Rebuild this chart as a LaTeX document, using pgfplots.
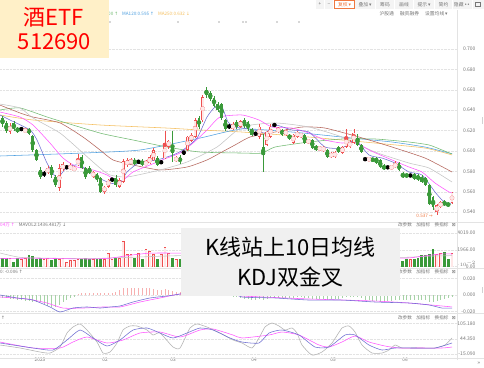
\documentclass[border=0pt]{standalone}
\usepackage{pgfplots}
\pgfplotsset{compat=1.18}
\usepackage{pgfplotstable}
\usepackage{fontspec}
\setmainfont{Noto Sans CJK SC}
\newfontfamily\sym{DejaVu Sans}
\definecolor{upred}{HTML}{EE5050}
\definecolor{upfill}{HTML}{FFE8E8}
\definecolor{dngreen}{HTML}{3A9A3A}
\definecolor{maA}{HTML}{6E6ED2}
\definecolor{maB}{HTML}{FF55FF}
\definecolor{maC}{HTML}{C4C4C4}
\definecolor{maD}{HTML}{B4645A}
\definecolor{maE}{HTML}{72BA72}
\definecolor{maF}{HTML}{50A0E0}
\definecolor{maG}{HTML}{F5C060}
\definecolor{ybox}{HTML}{FFF0C8}
\definecolor{gbox}{HTML}{F0F0F0}
\definecolor{lbl}{HTML}{777777}
\definecolor{orng}{HTML}{F07840}

% up (red, hollow) candles: index, open, high, low, close, volume
\pgfplotstableread{
i o h l c v
2 .619 .627 .617 .625 1020
6 .619 .623 .618 .621 1020
12 .579 .585 .577 .583 1020
15 .564 .587 .561 .583 900
16 .582 .589 .580 .587 1020
18 .582 .588 .581 .586 780
19 .581 .585 .580 .584 780
20 .586 .597 .585 .593 900
24 .575 .580 .574 .579 900
27 .560 .566 .558 .565 900
28 .565 .573 .564 .572 1620
31 .565 .574 .564 .572 1020
32 .570 .592 .569 .590 3060
33 .586 .593 .584 .591 1500
34 .588 .593 .587 .591 1500
38 .587 .591 .586 .589 2100
39 .588 .596 .587 .594 1860
40 .591 .603 .590 .601 1500
43 .593 .620 .592 .608 2340
44 .604 .611 .602 .610 1620
46 .590 .595 .589 .594 900
49 .601 .615 .600 .614 2000
50 .610 .618 .609 .616 1700
51 .614 .632 .613 .630 2600
53 .630 .655 .628 .653 3400
61 .622 .628 .621 .626 1200
63 .624 .630 .623 .629 1100
68 .614 .626 .612 .624 1300
70 .606 .620 .605 .619 1500
71 .614 .626 .613 .624 1300
73 .619 .624 .618 .622 900
75 .616 .622 .615 .620 900
77 .608 .617 .607 .616 1000
78 .614 .620 .613 .619 900
79 .614 .618 .613 .617 800
81 .608 .612 .607 .611 800
84 .601 .605 .600 .604 800
85 .600 .605 .599 .604 900
87 .594 .599 .593 .598 900
88 .594 .600 .593 .599 900
90 .598 .605 .597 .604 1000
91 .604 .622 .603 .614 1800
92 .604 .611 .603 .609 1200
93 .608 .622 .607 .618 1500
97 .591 .594 .590 .593 900
103 .583 .586 .582 .585 800
104 .584 .590 .583 .588 900
115 .540 .548 .537 .547 1500
116 .545 .551 .544 .550 1620
119 .549 .560 .548 .559 1620
}\upc

% down (green, filled) candles
\pgfplotstableread{
i o h l c v
0 .632 .634 .624 .626 1020
1 .627 .629 .618 .620 1020
3 .627 .629 .620 .622 540
4 .622 .624 .618 .619 1020
7 .622 .623 .616 .617 1380
8 .615 .616 .599 .601 1260
9 .601 .602 .590 .591 900
10 .581 .584 .573 .575 1020
13 .584 .586 .574 .576 780
14 .575 .576 .565 .567 1020
21 .594 .596 .582 .583 900
22 .583 .584 .573 .575 1020
23 .583 .585 .577 .578 900
25 .577 .578 .570 .572 900
26 .574 .575 .559 .560 900
30 .574 .576 .565 .567 1020
35 .591 .593 .586 .587 1020
37 .590 .592 .585 .587 900
41 .593 .595 .585 .586 900
45 .603 .620 .589 .598 1020
47 .594 .596 .587 .589 900
52 .632 .634 .622 .624 2200
54 .660 .663 .652 .655 2800
55 .657 .659 .649 .651 2000
56 .652 .654 .643 .644 1800
57 .646 .648 .638 .640 1500
58 .646 .647 .630 .632 1700
59 .630 .631 .620 .622 1400
62 .628 .630 .622 .624 1000
64 .630 .632 .623 .625 1000
65 .628 .629 .620 .622 1100
66 .622 .623 .615 .616 1000
69 .604 .617 .579 .596 2400
74 .621 .622 .615 .616 900
76 .616 .617 .611 .612 800
80 .616 .617 .607 .608 1000
82 .611 .612 .602 .603 1000
83 .605 .606 .600 .601 800
86 .601 .602 .593 .594 900
89 .604 .605 .598 .599 800
94 .613 .617 .605 .606 1300
95 .606 .607 .598 .599 1100
98 .592 .593 .590 .591 800
99 .593 .594 .587 .588 900
100 .591 .592 .583 .584 1000
101 .586 .587 .581 .582 900
105 .588 .589 .580 .581 1000
106 .577 .579 .574 .575 660
107 .577 .578 .574 .575 900
109 .577 .578 .572 .573 900
110 .576 .577 .571 .572 1020
111 .575 .576 .569 .570 1380
112 .574 .575 .566 .567 1380
113 .567 .568 .547 .548 1540
114 .555 .556 .542 .545 2100
117 .549 .552 .546 .548 1740
118 .549 .550 .545 .546 960
}\dnc

% flat (black) candles
\pgfplotstableread{
i o h l v
5 .6215 .623 .620 900
11 .578 .580 .575 900
17 .584 .586 .582 540
29 .572 .574 .570 900
36 .589 .591 .588 1620
42 .589 .591 .587 1500
48 .598 .600 .597 1200
60 .624 .626 .622 1200
67 .617 .619 .615 900
72 .6255 .627 .624 900
96 .592 .593 .591 1100
102 .584 .585 .583 800
108 .576 .577 .575 900
}\dojic

% MACD histogram
\pgfplotstableread{
i m
0 -.004
1 -.004
2 -.005
3 -.005
4 -.006
5 -.006
6 -.007
7 -.007
8 -.008
9 -.008
10 -.009
11 -.011
12 -.013
13 -.014
14 -.015
15 -.012
16 -.009
17 -.006
18 -.004
19 -.002
20 .001
21 .002
22 .002
23 .003
24 .002
25 .002
26 .002
27 .002
28 .003
29 .003
30 .004
31 .006
32 .008
33 .008
34 .009
35 .008
36 .008
37 .008
38 .008
39 .008
40 .007
41 .006
42 .006
43 .007
44 .006
45 .005
46 .004
47 .004
48 .005
49 .006
50 .007
51 .008
52 .009
53 .010
54 .011
55 .010
56 .009
57 .007
58 .005
59 .003
60 .001
61 -.002
62 -.003
63 -.004
64 -.005
65 -.005
66 -.006
67 -.006
68 -.005
69 -.006
70 -.005
71 -.004
72 -.004
73 -.004
74 -.004
75 -.004
76 -.004
77 -.004
78 -.003
79 -.003
80 -.004
81 -.004
82 -.005
83 -.005
84 -.005
85 -.005
86 -.006
87 -.005
88 -.005
89 -.005
90 -.004
91 -.003
92 -.003
93 -.002
94 -.003
95 -.004
96 -.006
97 -.006
98 -.007
99 -.007
100 -.008
101 -.008
102 -.007
103 -.007
104 -.006
105 -.006
106 -.006
107 -.006
108 -.006
109 -.006
110 -.006
111 -.006
112 -.006
113 -.008
114 -.008
115 -.007
116 -.006
117 -.005
118 -.004
119 -.002
}\macdh

\pgfplotsset{
  panel/.style={scale only axis, width=457bp, xmin=0, xmax=457,
    at={(0,0)}, anchor=south west, axis line style={draw=none}, major tick length=0pt,
    xtick=\empty, yticklabel pos=right,
    yticklabel style={font=\fontsize{5bp}{6bp}\selectfont, text=lbl, anchor=east, xshift=22bp},
    ymajorgrids, grid style={gray!22, densely dotted}},
  table/cx/.style={x expr=2.5+3.777*\thisrow{i}},
  mal/.style={line width=0.55pt, smooth, tension=0.35, mark=none},
  eb/.style={only marks, mark=none, error bars/.cd, y dir=both, y explicit, error mark=none},
}
\newcommand{\hdr}{\fontsize{4.6bp}{5bp}\selectfont\color{lbl}改参数\hspace{4.5bp}加指标\hspace{4.5bp}换指标\hspace{3.5bp}\sym ⊠}

\begin{document}
\begin{tikzpicture}[x=1bp,y=1bp]
\useasboundingbox (0,0) rectangle (484,367);
\fill[white] (0,0) rectangle (484,367);

% ===== main price panel =====
\begin{scope}[shift={(0,147)}]
\begin{axis}[panel, height=210bp, ymin=0.53235, ymax=0.73824,
  ytick={0.54,0.56,0.58,0.60,0.62,0.64,0.66,0.68,0.70},
  yticklabels={0.540,0.560,0.580,0.600,0.620,0.640,0.660,0.680,0.700}]
\addplot[mal, maG] coordinates {(0,.6353) (33,.6304) (100,.6255) (167,.6225) (200,.6206) (242,.6186) (309,.6137) (375,.6078) (425,.6029) (452,.5961)};
\addplot[mal, maF] coordinates {(0,.5951) (83,.5980) (140,.6010) (200,.6127) (242,.6216) (292,.6186) (342,.6137) (392,.6088) (425,.6039) (449,.5980) (452,.5975)};
\addplot[mal, maE] coordinates {(0,.6402) (20,.6422) (50,.6324) (100,.6176) (133,.6108) (167,.6039) (200,.5990) (242,.5980) (262,.5980) (275,.6039) (309,.6088) (342,.6118) (375,.6118) (409,.6088) (429,.6059) (442,.6010) (452,.5971)};
\addplot[mal, maD] coordinates {(0,.645) (20,.6373) (33,.6333) (60,.6275) (83,.6137) (100,.6010) (113,.5912) (133,.5863) (160,.5814) (187,.5843) (207,.5912) (220,.5980) (235,.6059) (250,.6137) (275,.6186) (302,.6235) (325,.6225) (359,.6137) (392,.6039) (425,.5931) (452,.5794)};
\addplot[mal, maC] coordinates {(0,.646) (20,.6422) (33,.6324) (60,.6176) (83,.5980) (100,.5833) (110,.5765) (127,.5745) (160,.5814) (187,.5892) (217,.6039) (242,.6235) (275,.6275) (309,.6235) (342,.6137) (375,.5990) (409,.5882) (429,.5833) (452,.5696)};
\addplot[mal, maB] coordinates {(0,.6382) (20,.6333) (33,.6255) (50,.6078) (63,.5931) (77,.5843) (93,.5814) (107,.5765) (120,.5696) (133,.5794) (150,.5863) (167,.5931) (180,.5980) (193,.6078) (207,.6206) (220,.6333) (242,.6353) (259,.6304) (272,.6235) (292,.6225) (309,.6176) (325,.6108) (342,.6078) (355,.6088) (369,.6010) (392,.5912) (409,.5843) (422,.5794) (435,.5686) (449,.5598) (452,.5590)};
\addplot[mal, maA] coordinates {(0,.6353) (10,.6304) (30,.6206) (37,.6108) (47,.5882) (57,.5735) (67,.5843) (80,.5863) (93,.5765) (110,.5686) (120,.5686) (127,.5794) (140,.5892) (157,.5912) (173,.5961) (183,.6010) (197,.6127) (207,.6333) (215,.6431) (222,.6431) (228,.6284) (235,.6235) (242,.6225) (255,.6206) (265,.6176) (275,.6255) (292,.6206) (309,.6186) (325,.6039) (342,.6029) (355,.6108) (369,.5961) (382,.5931) (395,.5882) (409,.5794) (422,.5765) (435,.5598) (442,.5520) (449,.5480) (452,.5500)};
\addplot[only marks, mark=*, mark size=0.6pt, gray!50] coordinates {(110,.7265) (178,.7265) (219,.7265) (243,.7265) (246,.7265) (277,.7265) (299,.7265)};
% wicks
\addplot[upred, eb, error bar style={line width=0.5pt, draw=upred}]
  table[cx, y expr=(\thisrow{h}+\thisrow{l})/2, y error expr=(\thisrow{h}-\thisrow{l})/2] {\upc};
\addplot[dngreen, eb, error bar style={line width=0.5pt, draw=dngreen}]
  table[cx, y expr=(\thisrow{h}+\thisrow{l})/2, y error expr=(\thisrow{h}-\thisrow{l})/2] {\dnc};
\addplot[black, eb, error bar style={line width=0.5pt, draw=black}]
  table[cx, y expr=(\thisrow{h}+\thisrow{l})/2, y error expr=(\thisrow{h}-\thisrow{l})/2] {\dojic};
% bodies
\addplot[dngreen, eb, error bar style={line width=2.8pt, draw=dngreen}]
  table[cx, y expr=(\thisrow{o}+\thisrow{c})/2, y error expr=abs(\thisrow{o}-\thisrow{c})/2] {\dnc};
\addplot[upred, eb, error bar style={line width=2.9pt, draw=upred}]
  table[cx, y expr=(\thisrow{o}+\thisrow{c})/2, y error expr=abs(\thisrow{o}-\thisrow{c})/2] {\upc};
\addplot[upfill, eb, error bar style={line width=1.8pt, draw=upfill}]
  table[cx, y expr=(\thisrow{o}+\thisrow{c})/2, y error expr={max(abs(\thisrow{o}-\thisrow{c})/2-0.00055,0)}] {\upc};
\addplot[only marks, mark=square*, mark size=0.7pt, black] table[cx, y=o] {\dojic};
\end{axis}
\end{scope}

% ===== volume panel =====
\begin{scope}[shift={(0,100)}]
\begin{axis}[panel, height=45bp, ymin=-60, ymax=5340,
  ytick={0,1966,4019}, yticklabels={0.00,1966.00,4019.00}]
\addplot[ycomb, draw=dngreen, line width=2.8pt, mark=none] table[cx, y=v] {\dnc};
\addplot[ycomb, draw=upred, line width=2.8pt, mark=none] table[cx, y=v] {\upc};
\addplot[ycomb, draw=upfill, line width=1.8pt, mark=none] table[cx, y expr=\thisrow{v}-60] {\upc};
\addplot[ycomb, draw=upred, line width=2.8pt, mark=none] table[cx, y=v] {\dojic};
\addplot[ycomb, draw=upfill, line width=1.8pt, mark=none] table[cx, y expr=\thisrow{v}-60] {\dojic};
\addplot[mal, maC] coordinates {(0,1620) (20,1100) (50,1000) (90,950) (130,1100) (180,1300) (300,1400) (400,1100) (430,1250) (452,1300)};
\addplot[mal, maB] coordinates {(0,950) (30,1000) (60,950) (90,900) (110,1000) (130,1350) (150,1600) (180,1600) (300,1300) (400,1000) (420,1200) (440,1500) (452,1500)};
\end{axis}
\end{scope}

% ===== MACD panel =====
\begin{scope}[shift={(0,54)}]
\begin{axis}[panel, height=45bp, ymin=-0.0218, ymax=0.0327,
  ytick={-0.02,0,0.02}, yticklabels={-0.020,0.000,0.020}]
\addplot[ycomb, draw=upred!45, line width=0.7pt, restrict y to domain=0:1] table[cx, y=m] {\macdh};
\addplot[ycomb, draw=dngreen!45, line width=0.7pt, restrict y to domain=-1:0] table[cx, y=m] {\macdh};
\addplot[mal, maB] coordinates {(0,-0.0024) (27,-0.0048) (47,-0.0097) (63,-0.0158) (83,-0.0158) (103,-0.0145) (120,-0.0145) (140,-0.0085) (160,-0.0036) (180,0.0012) (210,0.0036) (230,0.0012) (242,-0.0012) (309,-0.0048) (375,-0.0073) (409,-0.0097) (442,-0.0133) (452,-0.0145)};
\addplot[mal, maA] coordinates {(0,0) (17,-0.0036) (33,-0.0061) (50,-0.0145) (60,-0.0206) (73,-0.0158) (87,-0.0145) (100,-0.0158) (110,-0.0145) (120,-0.0133) (133,-0.0085) (150,-0.0036) (167,-0.0012) (180,0.0012) (200,0.006) (215,0.0085) (230,0.0048) (242,-0.0024) (275,-0.0036) (309,-0.0061) (342,-0.0061) (375,-0.0085) (409,-0.0097) (429,-0.0121) (442,-0.0158) (452,-0.0158)};
\end{axis}
\end{scope}

% ===== KDJ panel =====
\begin{scope}[shift={(0,9)}]
\begin{axis}[panel, height=45bp, ymin=-30.1, ymax=146.3,
  ytick={-15.09,44.35,105.18}, yticklabels={-15.090,44.350,105.180},
  xtick={40,105,173,254,333,405}, xticklabels={2025,02,03,04,05,06},
  xticklabel style={font=\fontsize{4.8bp}{5bp}\selectfont, text=lbl, yshift=3.5bp}]
\addplot[mal, gray!60] coordinates {(0,20.8) (20,9.1) (40,-6.6) (50,-10.5) (60,13) (67,67.9) (73,91.4) (80,103.2) (87,79.6) (97,32.6) (103,-10.5) (110,-6.6) (117,28.7) (123,79.6) (130,95.3) (137,95.3) (147,79.6) (153,60) (160,67.9) (173,13) (180,9.1) (190,87.5) (197,103.2) (207,91.4) (220,67.9) (233,40.4) (242,28.7) (252,9.1) (259,48.3) (265,91.4) (272,107) (279,95.3) (285,79.6) (292,87.5) (297,67.9) (302,20.8) (312,-18.4) (322,-6.6) (332,28.7) (342,87.5) (349,95.3) (355,71.8) (362,20.8) (372,-10.5) (382,-10.5) (389,1.2) (395,20.8) (402,9.1) (412,9.1) (422,9.1) (435,9.1) (445,20.8) (452,48.3)};
\addplot[mal, maB] coordinates {(0,32.6) (33,9.1) (60,9.1) (73,32.6) (87,52.2) (107,28.7) (123,40.4) (140,67.9) (160,71.8) (180,52.2) (200,79.6) (213,83.6) (233,60) (242,48.3) (269,60) (282,71.8) (299,60) (319,20.8) (329,13) (342,32.6) (355,56.1) (369,32.6) (385,16.9) (399,9.1) (419,9.1) (442,9.1) (452,13)};
\addplot[mal, maA] coordinates {(0,28.7) (33,9.1) (53,1.2) (67,40.4) (80,79.6) (93,48.3) (107,16.9) (120,40.4) (133,79.6) (147,87.5) (160,67.9) (173,48.3) (187,67.9) (200,87.5) (213,79.6) (230,48.3) (242,32.6) (259,28.7) (269,67.9) (282,79.6) (299,60) (315,13) (329,13) (345,60) (355,60) (369,20.8) (382,1.2) (395,9.1) (415,9.1) (435,9.1) (452,28.7)};
\end{axis}
\end{scope}

% ===== frame lines =====
\draw[gray!22, line width=0.4pt] (457,7) -- (457,357);
\foreach \yy in {145,99,54,9} \draw[gray!22, line width=0.4pt] (0,\yy) -- (484,\yy);
\fill[gray!35] (481.5,243) rectangle (483,250);
\fill[gray!35] (481.5,74) rectangle (483,80);

% ===== toolbar =====
\begin{scope}[font=\fontsize{4.8bp}{5bp}\selectfont]
\foreach \a/\b in {316/324,325/333,355/375,376/394,395/413,414/434,435/452,453/472,473/484}
  \fill[gray!9] (\a,358) rectangle (\b,367);
\draw[orng, line width=0.5pt, fill=white] (334.5,358.3) rectangle (354.5,366.7);
\node[text=lbl] at (320,362.5) {+};
\node[text=lbl] at (329,362.5) {−};
\node[text=orng] at (344.5,362.5) {复权\,{\sym▾}};
\node[text=lbl] at (365,362.5) {叠加\,{\sym▾}};
\node[text=lbl] at (385,362.5) {筹码};
\node[text=lbl] at (404,362.5) {画线};
\node[text=lbl] at (424,362.5) {提示\,{\sym▾}};
\node[text=lbl] at (443.5,362.5) {简约};
\node[text=lbl] at (462,362.5) {隐藏\,{\sym••}};
\draw[lbl, line width=0.3pt] (475.5,360.5) rectangle (480.5,365);
\node[text=lbl, anchor=west] at (376,353) {沪股通\hspace{6bp}融资融券\hspace{6bp}设置均线\,{\sym▾}};
\end{scope}

% ===== legends in headers =====
\begin{scope}[font=\fontsize{4.6bp}{5bp}\selectfont]
\node[anchor=west, inner sep=0] at (108,353) {\textcolor{maE}{00 {\sym↑}}\hspace{4bp}\textcolor{maF}{MA120:0.595 {\sym↑}}\hspace{4bp}\textcolor{maG}{MA250:0.632 {\sym↓}}};
\node[anchor=west, inner sep=0] at (0,142) {\textcolor{maB}{04万 {\sym↑}}\hspace{4bp}\textcolor{lbl}{MAVOL2:1436.481万 {\sym↓}}};
\node[anchor=west, inner sep=0, text=lbl] at (0,95) {0:\,-0.006 {\sym↑}};
\node[anchor=west, inner sep=0, text=lbl] at (1,49) {{\sym↑}};
\node[anchor=east, inner sep=0] at (456,142) {\hdr};
\node[anchor=east, inner sep=0] at (456,95.5) {\hdr};
\node[anchor=east, inner sep=0] at (456,49.5) {\hdr};
\node[anchor=east, inner sep=0, text=orng] at (433,151) {0.537 {\sym→}};
\node[text=lbl, font=\fontsize{5bp}{5bp}\selectfont] at (479,4) {{\sym»}};
\end{scope}

% ===== overlays =====
\fill[ybox] (0,309) rectangle (109,367);
\node[text=red, font=\fontsize{22bp}{24bp}\selectfont] at (54,349.5) {酒ETF};
\node[text=red, font=\fontsize{22bp}{24bp}\selectfont] at (54.5,325.5) {512690};
\fill[gbox] (181,71) rectangle (400,139);
\node[text=black, font=\fontsize{22bp}{24bp}\selectfont] at (290.5,119.5) {K线站上10日均线};
\node[text=black, font=\fontsize{22bp}{24bp}\selectfont] at (290.5,90) {KDJ双金叉};
\end{tikzpicture}
\end{document}
